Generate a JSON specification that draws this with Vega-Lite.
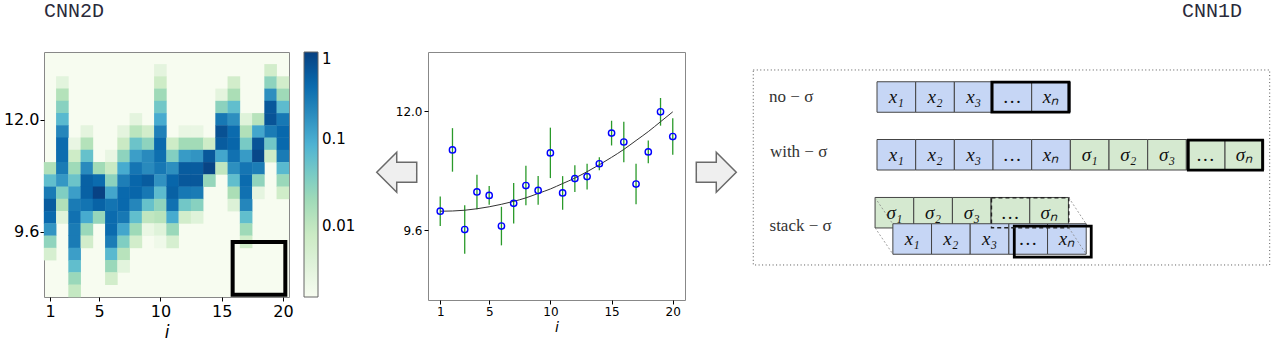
{
  "$schema": "https://vega.github.io/schema/vega-lite/v6.json",
  "padding": {"left": 2, "top": 0, "right": 0, "bottom": 0},
  "background": "white",
  "bounds": "flush",
  "spacing": 0,
  "config": {
    "font": "DejaVu Sans",
    "view": {"stroke": null},
    "title": {"font": "Liberation Mono", "fontSize": 20, "fontWeight": "normal", "color": "#2a2a3a"},
    "axis": {"grid": false, "domain": false, "tickColor": "#000", "labelColor": "#000", "titleColor": "#000", "titleFontWeight": "normal", "labelFlush": false}
  },
  "resolve": {"scale": {"color": "independent", "fill": "independent"}, "legend": {"color": "independent", "fill": "independent"}},
  "datasets": {
    "heat": [
      {"i":1,"y":10.956,"v":0.014},{"i":1,"y":10.694,"v":0.06},{"i":1,"y":10.431,"v":0.28},{"i":1,"y":10.169,"v":0.55},{"i":1,"y":9.906,"v":0.42},{"i":1,"y":9.644,"v":0.16},{"i":1,"y":9.381,"v":0.026},{"i":1,"y":9.119,"v":0.005},
      {"i":2,"y":12.794,"v":0.0032},{"i":2,"y":12.531,"v":0.013},{"i":2,"y":12.269,"v":0.03},{"i":2,"y":12.006,"v":0.07},{"i":2,"y":11.744,"v":0.22},{"i":2,"y":11.481,"v":0.4},{"i":2,"y":11.219,"v":0.38},{"i":2,"y":10.956,"v":0.28},{"i":2,"y":10.694,"v":0.15},{"i":2,"y":10.431,"v":0.035},{"i":2,"y":10.169,"v":0.014},{"i":2,"y":9.906,"v":0.0035},
      {"i":3,"y":11.481,"v":0.0025},{"i":3,"y":11.219,"v":0.007},{"i":3,"y":10.956,"v":0.02},{"i":3,"y":10.694,"v":0.05},{"i":3,"y":10.431,"v":0.13},{"i":3,"y":10.169,"v":0.28},{"i":3,"y":9.906,"v":0.35},{"i":3,"y":9.644,"v":0.28},{"i":3,"y":9.381,"v":0.28},{"i":3,"y":9.119,"v":0.13},{"i":3,"y":8.856,"v":0.06},{"i":3,"y":8.594,"v":0.022},{"i":3,"y":8.331,"v":0.009},
      {"i":4,"y":11.744,"v":0.003},{"i":4,"y":11.481,"v":0.013},{"i":4,"y":11.219,"v":0.055},{"i":4,"y":10.956,"v":0.2},{"i":4,"y":10.694,"v":0.5},{"i":4,"y":10.431,"v":0.5},{"i":4,"y":10.169,"v":0.33},{"i":4,"y":9.906,"v":0.1},{"i":4,"y":9.644,"v":0.022},{"i":4,"y":9.381,"v":0.006},
      {"i":5,"y":10.956,"v":0.019},{"i":5,"y":10.694,"v":0.4},{"i":5,"y":10.431,"v":0.95},{"i":5,"y":10.169,"v":0.48},{"i":5,"y":9.906,"v":0.024},
      {"i":6,"y":11.219,"v":0.0025},{"i":6,"y":10.956,"v":0.008},{"i":6,"y":10.694,"v":0.028},{"i":6,"y":10.431,"v":0.11},{"i":6,"y":10.169,"v":0.33},{"i":6,"y":9.906,"v":0.4},{"i":6,"y":9.644,"v":0.4},{"i":6,"y":9.381,"v":0.27},{"i":6,"y":9.119,"v":0.07},{"i":6,"y":8.856,"v":0.022},{"i":6,"y":8.594,"v":0.006},
      {"i":7,"y":11.744,"v":0.003},{"i":7,"y":11.481,"v":0.008},{"i":7,"y":11.219,"v":0.027},{"i":7,"y":10.956,"v":0.1},{"i":7,"y":10.694,"v":0.26},{"i":7,"y":10.431,"v":0.42},{"i":7,"y":10.169,"v":0.42},{"i":7,"y":9.906,"v":0.3},{"i":7,"y":9.644,"v":0.11},{"i":7,"y":9.381,"v":0.035},{"i":7,"y":9.119,"v":0.012},{"i":7,"y":8.856,"v":0.0032},
      {"i":8,"y":12.006,"v":0.003},{"i":8,"y":11.744,"v":0.011},{"i":8,"y":11.481,"v":0.05},{"i":8,"y":11.219,"v":0.13},{"i":8,"y":10.956,"v":0.32},{"i":8,"y":10.694,"v":0.45},{"i":8,"y":10.431,"v":0.45},{"i":8,"y":10.169,"v":0.22},{"i":8,"y":9.906,"v":0.06},{"i":8,"y":9.644,"v":0.02},{"i":8,"y":9.381,"v":0.006},
      {"i":9,"y":11.744,"v":0.006},{"i":9,"y":11.481,"v":0.027},{"i":9,"y":11.219,"v":0.2},{"i":9,"y":10.956,"v":0.2},{"i":9,"y":10.694,"v":0.55},{"i":9,"y":10.431,"v":0.3},{"i":9,"y":10.169,"v":0.055},{"i":9,"y":9.906,"v":0.01},{"i":9,"y":9.644,"v":0.0024},
      {"i":10,"y":13.056,"v":0.003},{"i":10,"y":12.794,"v":0.007},{"i":10,"y":12.531,"v":0.02},{"i":10,"y":12.269,"v":0.045},{"i":10,"y":12.006,"v":0.1},{"i":10,"y":11.744,"v":0.25},{"i":10,"y":11.481,"v":0.42},{"i":10,"y":11.219,"v":0.37},{"i":10,"y":10.956,"v":0.3},{"i":10,"y":10.694,"v":0.17},{"i":10,"y":10.431,"v":0.065},{"i":10,"y":10.169,"v":0.026},{"i":10,"y":9.906,"v":0.012},{"i":10,"y":9.644,"v":0.0035},{"i":10,"y":9.381,"v":0.002},
      {"i":11,"y":11.481,"v":0.007},{"i":11,"y":11.219,"v":0.033},{"i":11,"y":10.956,"v":0.18},{"i":11,"y":10.694,"v":0.45},{"i":11,"y":10.431,"v":0.5},{"i":11,"y":10.169,"v":0.35},{"i":11,"y":9.906,"v":0.1},{"i":11,"y":9.644,"v":0.022},{"i":11,"y":9.381,"v":0.005},
      {"i":12,"y":11.744,"v":0.0025},{"i":12,"y":11.481,"v":0.019},{"i":12,"y":11.219,"v":0.14},{"i":12,"y":10.956,"v":0.55},{"i":12,"y":10.694,"v":0.6},{"i":12,"y":10.431,"v":0.3},{"i":12,"y":10.169,"v":0.045},{"i":12,"y":9.906,"v":0.006},
      {"i":13,"y":11.744,"v":0.0025},{"i":13,"y":11.481,"v":0.019},{"i":13,"y":11.219,"v":0.16},{"i":13,"y":10.956,"v":0.55},{"i":13,"y":10.694,"v":0.6},{"i":13,"y":10.431,"v":0.28},{"i":13,"y":10.169,"v":0.03},{"i":13,"y":9.906,"v":0.0035},
      {"i":14,"y":11.481,"v":0.007},{"i":14,"y":11.219,"v":0.6},{"i":14,"y":10.956,"v":0.9},{"i":14,"y":10.694,"v":0.024},
      {"i":15,"y":12.531,"v":0.003},{"i":15,"y":12.269,"v":0.028},{"i":15,"y":12.006,"v":0.3},{"i":15,"y":11.744,"v":0.7},{"i":15,"y":11.481,"v":0.55},{"i":15,"y":11.219,"v":0.11},{"i":15,"y":10.956,"v":0.01},
      {"i":16,"y":12.794,"v":0.006},{"i":16,"y":12.531,"v":0.016},{"i":16,"y":12.269,"v":0.06},{"i":16,"y":12.006,"v":0.18},{"i":16,"y":11.744,"v":0.4},{"i":16,"y":11.481,"v":0.45},{"i":16,"y":11.219,"v":0.35},{"i":16,"y":10.956,"v":0.18},{"i":16,"y":10.694,"v":0.06},{"i":16,"y":10.431,"v":0.016},{"i":16,"y":10.169,"v":0.004},
      {"i":17,"y":12.006,"v":0.0035},{"i":17,"y":11.744,"v":0.014},{"i":17,"y":11.481,"v":0.04},{"i":17,"y":11.219,"v":0.14},{"i":17,"y":10.956,"v":0.32},{"i":17,"y":10.694,"v":0.4},{"i":17,"y":10.431,"v":0.35},{"i":17,"y":10.169,"v":0.22},{"i":17,"y":9.906,"v":0.06},{"i":17,"y":9.644,"v":0.02},{"i":17,"y":9.381,"v":0.0065},
      {"i":18,"y":12.006,"v":0.012},{"i":18,"y":11.744,"v":0.11},{"i":18,"y":11.481,"v":0.65},{"i":18,"y":11.219,"v":0.85},{"i":18,"y":10.956,"v":0.27},{"i":18,"y":10.694,"v":0.026},{"i":18,"y":10.431,"v":0.0028},
      {"i":19,"y":13.056,"v":0.006},{"i":19,"y":12.794,"v":0.027},{"i":19,"y":12.531,"v":0.18},{"i":19,"y":12.269,"v":0.6},{"i":19,"y":12.006,"v":0.65},{"i":19,"y":11.744,"v":0.28},{"i":19,"y":11.481,"v":0.045},{"i":19,"y":11.219,"v":0.007},
      {"i":20,"y":12.794,"v":0.006},{"i":20,"y":12.531,"v":0.02},{"i":20,"y":12.269,"v":0.065},{"i":20,"y":12.006,"v":0.3},{"i":20,"y":11.744,"v":0.43},{"i":20,"y":11.481,"v":0.42},{"i":20,"y":11.219,"v":0.28},{"i":20,"y":10.956,"v":0.07},{"i":20,"y":10.694,"v":0.022},{"i":20,"y":10.431,"v":0.0065}
    ],
    "heatbox": [{"x0":15.9,"x1":20.2,"y0":8.25,"y1":9.38}],
    "pts": [
      {"i":1,"y":9.98,"e":0.30},{"i":2,"y":11.22,"e":0.44},{"i":3,"y":9.61,"e":0.49},{"i":4,"y":10.37,"e":0.35},{"i":5,"y":10.30,"e":0.19},
      {"i":6,"y":9.68,"e":0.39},{"i":7,"y":10.14,"e":0.41},{"i":8,"y":10.50,"e":0.40},{"i":9,"y":10.40,"e":0.29},{"i":10,"y":11.16,"e":0.51},
      {"i":11,"y":10.35,"e":0.34},{"i":12,"y":10.64,"e":0.27},{"i":13,"y":10.68,"e":0.26},{"i":14,"y":10.94,"e":0.13},{"i":15,"y":11.56,"e":0.25},
      {"i":16,"y":11.38,"e":0.41},{"i":17,"y":10.53,"e":0.41},{"i":18,"y":11.18,"e":0.23},{"i":19,"y":11.99,"e":0.28},{"i":20,"y":11.49,"e":0.37}
    ],
    "fit": [
      {"i":1,"y":9.98},{"i":2,"y":9.985},{"i":3,"y":10.0},{"i":4,"y":10.03},{"i":5,"y":10.07},{"i":6,"y":10.12},{"i":7,"y":10.18},{"i":8,"y":10.25},{"i":9,"y":10.34},{"i":10,"y":10.43},
      {"i":11,"y":10.54},{"i":12,"y":10.65},{"i":13,"y":10.78},{"i":14,"y":10.92},{"i":15,"y":11.07},{"i":16,"y":11.23},{"i":17,"y":11.41},{"i":18,"y":11.59},{"i":19,"y":11.79},{"i":20,"y":11.99}
    ],
    "cells": [
      {"cx":0.5,"cy":1.452,"t":"x₁","k":"x"},{"cx":1.5,"cy":1.452,"t":"x₂","k":"x"},{"cx":2.5,"cy":1.452,"t":"x₃","k":"x"},{"cx":3.5,"cy":1.452,"t":"…","k":"x"},{"cx":4.5,"cy":1.452,"t":"xₙ","k":"x"},
      {"cx":0.5,"cy":3.315,"t":"x₁","k":"x"},{"cx":1.5,"cy":3.315,"t":"x₂","k":"x"},{"cx":2.5,"cy":3.315,"t":"x₃","k":"x"},{"cx":3.5,"cy":3.315,"t":"…","k":"x"},{"cx":4.5,"cy":3.315,"t":"xₙ","k":"x"},
      {"cx":5.5,"cy":3.315,"t":"σ₁","k":"s"},{"cx":6.5,"cy":3.315,"t":"σ₂","k":"s"},{"cx":7.5,"cy":3.315,"t":"σ₃","k":"s"},{"cx":8.5,"cy":3.315,"t":"…","k":"s"},{"cx":9.5,"cy":3.315,"t":"σₙ","k":"s"},
      {"cx":0.45,"cy":5.184,"t":"σ₁","k":"s"},{"cx":1.45,"cy":5.184,"t":"σ₂","k":"s"},{"cx":2.45,"cy":5.184,"t":"σ₃","k":"s"},{"cx":3.45,"cy":5.184,"t":"…","k":"s"},{"cx":4.45,"cy":5.184,"t":"σₙ","k":"s"},
      {"cx":0.91,"cy":6.032,"t":"x₁","k":"x"},{"cx":1.91,"cy":6.032,"t":"x₂","k":"x"},{"cx":2.91,"cy":6.032,"t":"x₃","k":"x"},{"cx":3.91,"cy":6.032,"t":"…","k":"x"},{"cx":4.91,"cy":6.032,"t":"xₙ","k":"x"}
    ],
    "thick": [
      {"x0":2.97,"x1":4.96,"y0":0.97,"y1":1.94},
      {"x0":8.05,"x1":9.97,"y0":2.84,"y1":3.81},
      {"x0":3.55,"x1":5.54,"y0":5.62,"y1":6.62}
    ],
    "dashed": [{"x0":2.96,"x1":4.96,"y0":4.70,"y1":5.67}],
    "diag": [
      {"x0":-0.05,"y0":4.70,"x1":0.41,"y1":5.55},
      {"x0":-0.05,"y0":5.67,"x1":0.41,"y1":6.52},
      {"x0":4.96,"y0":4.70,"x1":5.41,"y1":5.55},
      {"x0":4.96,"y0":5.67,"x1":5.41,"y1":6.52}
    ],
    "labels": [
      {"lx":-2.79,"ly":1.44,"t":"no − σ"},
      {"lx":-2.77,"ly":3.22,"t":"with − σ"},
      {"lx":-2.78,"ly":5.61,"t":"stack − σ"}
    ],
    "frame": [{"x0":-3.2,"x1":10.155,"y0":0.58,"y1":6.87}]
  },
  "hconcat": [
    {
      "width": 245, "height": 245,
      "view": {"stroke": "#888", "strokeWidth": 1, "fill": "#f7fcf0"},
      "title": {"text": "CNN2D", "anchor": "start", "frame": "group", "baseline": "alphabetic", "offset": 15},
      "layer": [
        {
          "data": {"name": "heat"},
          "mark": {"type": "rect", "width": 12.6, "height": 12.6},
          "encoding": {
            "x": {"field": "i", "type": "quantitative", "scale": {"domain": [0.5, 20.5], "nice": false, "zero": false},
                  "axis": {"values": [1, 5, 10, 15, 20], "title": "i", "titleFontStyle": "italic", "titleFont": "DejaVu Sans", "labelFontSize": 16, "titleFontSize": 17, "tickSize": 4, "labelPadding": 2, "titlePadding": 5}},
            "y": {"field": "y", "type": "quantitative", "scale": {"domain": [8.2, 13.45], "nice": false, "zero": false},
                  "axis": {"values": [9.6, 12.0], "format": ".1f", "title": null, "labelFontSize": 16, "tickSize": 4, "labelPadding": 1}},
            "color": {"field": "v", "type": "quantitative",
                      "scale": {"type": "log", "domain": [0.0015, 0.0034, 0.0076, 0.017, 0.038, 0.085, 0.19, 0.43, 1], "range": ["#f7fcf0", "#e0f3db", "#ccebc5", "#a8ddb5", "#7bccc4", "#4eb3d3", "#2b8cbe", "#0868ac", "#084081"], "interpolate": "rgb"},
                      "legend": {"orient": "right", "offset": 15, "padding": 0, "title": null, "direction": "vertical", "gradientLength": 245, "gradientThickness": 14, "values": [0.01, 0.1, 1], "format": "~g", "labelFontSize": 15, "labelFont": "DejaVu Sans", "labelColor": "#000", "labelBaseline": "middle", "labelOffset": 4, "gradientStrokeColor": "#666", "gradientStrokeWidth": 1}}
          }
        },
        {
          "data": {"name": "heatbox"},
          "mark": {"type": "rect", "fill": "transparent", "stroke": "#000", "strokeWidth": 4},
          "encoding": {
            "x": {"field": "x0", "type": "quantitative"}, "x2": {"field": "x1"},
            "y": {"field": "y0", "type": "quantitative"}, "y2": {"field": "y1"}
          }
        }
      ]
    },
    {
      "width": 139, "height": 248,
      "data": {"values": [{"x": 0.775, "y": 0.515}]},
      "mark": {"type": "point", "shape": "M -1 0 L 0 -1 L 0 -0.5 L 1 -0.5 L 1 0.5 L 0 0.5 L 0 1 Z", "size": 1600, "filled": true, "fill": "#efefef", "stroke": "#6a6a6a", "strokeWidth": 1.5, "opacity": 1},
      "encoding": {
        "x": {"field": "x", "type": "quantitative", "scale": {"domain": [0, 1]}, "axis": null},
        "y": {"field": "y", "type": "quantitative", "scale": {"domain": [0, 1]}, "axis": null}
      }
    },
    {
      "width": 257, "height": 248,
      "view": {"stroke": "#888", "strokeWidth": 1},
      "layer": [
        {
          "data": {"name": "pts"},
          "mark": {"type": "errorbar", "color": "#2a9a2a", "thickness": 1.3},
          "encoding": {
            "x": {"field": "i", "type": "quantitative", "scale": {"domain": [0, 21], "nice": false, "zero": false},
                  "axis": {"values": [1, 5, 10, 15, 20], "title": "i", "titleFontStyle": "italic", "labelFontSize": 12, "titleFontSize": 14, "tickSize": 4, "labelPadding": 2, "titlePadding": 3}},
            "y": {"field": "y", "type": "quantitative", "scale": {"domain": [8.185, 13.2], "nice": false, "zero": false},
                  "axis": {"values": [9.6, 12.0], "format": ".1f", "title": null, "labelFontSize": 12, "tickSize": 4, "labelPadding": 2}},
            "yError": {"field": "e"}
          }
        },
        {
          "data": {"name": "fit"},
          "mark": {"type": "line", "color": "#333", "strokeWidth": 1, "interpolate": "monotone"},
          "encoding": {"x": {"field": "i", "type": "quantitative"}, "y": {"field": "y", "type": "quantitative"}}
        },
        {
          "data": {"name": "pts"},
          "mark": {"type": "point", "filled": false, "color": "#0000ff", "size": 40, "strokeWidth": 1.4, "opacity": 1},
          "encoding": {"x": {"field": "i", "type": "quantitative"}, "y": {"field": "y", "type": "quantitative"}}
        }
      ]
    },
    {
      "width": 68, "height": 248,
      "data": {"values": [{"x": 0.46, "y": 0.515}]},
      "mark": {"type": "point", "shape": "M 1 0 L 0 -1 L 0 -0.5 L -1 -0.5 L -1 0.5 L 0 0.5 L 0 1 Z", "size": 1600, "filled": true, "fill": "#efefef", "stroke": "#6a6a6a", "strokeWidth": 1.5, "opacity": 1},
      "encoding": {
        "x": {"field": "x", "type": "quantitative", "scale": {"domain": [0, 1]}, "axis": null},
        "y": {"field": "y", "type": "quantitative", "scale": {"domain": [0, 1]}, "axis": null}
      }
    },
    {
      "width": 517, "height": 248,
      "title": {"text": "CNN1D", "anchor": "end", "frame": "group", "baseline": "alphabetic", "offset": 15, "dx": -28},
      "encoding": {
        "x": {"type": "quantitative", "scale": {"domain": [-3.207, 10.163], "nice": false, "zero": false}, "axis": null},
        "y": {"type": "quantitative", "scale": {"domain": [0, 8], "reverse": true, "nice": false, "zero": false}, "axis": null}
      },
      "layer": [
        {
          "data": {"name": "frame"},
          "mark": {"type": "rect", "fill": "transparent", "stroke": "#555", "strokeWidth": 1, "strokeDash": [1, 2.5]},
          "encoding": {"x": {"field": "x0", "type": "quantitative"}, "x2": {"field": "x1"}, "y": {"field": "y0", "type": "quantitative"}, "y2": {"field": "y1"}}
        },
        {
          "data": {"name": "cells"},
          "mark": {"type": "rect", "width": 38.67, "height": 30.5, "stroke": "#444", "strokeWidth": 1},
          "encoding": {
            "x": {"field": "cx", "type": "quantitative"},
            "y": {"field": "cy", "type": "quantitative"},
            "fill": {"field": "k", "type": "nominal", "scale": {"domain": ["x", "s"], "range": ["#c6d6f5", "#d5e9d0"]}, "legend": null}
          }
        },
        {
          "data": {"name": "thick"},
          "mark": {"type": "rect", "fill": "transparent", "stroke": "#000", "strokeWidth": 2.8},
          "encoding": {"x": {"field": "x0", "type": "quantitative"}, "x2": {"field": "x1"}, "y": {"field": "y0", "type": "quantitative"}, "y2": {"field": "y1"}}
        },
        {
          "data": {"name": "dashed"},
          "mark": {"type": "rect", "fill": "transparent", "stroke": "#222", "strokeWidth": 1.4, "strokeDash": [4, 3]},
          "encoding": {"x": {"field": "x0", "type": "quantitative"}, "x2": {"field": "x1"}, "y": {"field": "y0", "type": "quantitative"}, "y2": {"field": "y1"}}
        },
        {
          "data": {"name": "diag"},
          "mark": {"type": "rule", "stroke": "#888", "strokeWidth": 0.8, "strokeDash": [2, 2]},
          "encoding": {"x": {"field": "x0", "type": "quantitative"}, "x2": {"field": "x1"}, "y": {"field": "y0", "type": "quantitative"}, "y2": {"field": "y1"}}
        },
        {
          "data": {"name": "cells"},
          "mark": {"type": "text", "font": "Liberation Serif", "fontStyle": "italic", "fontSize": 19, "color": "#111", "align": "center", "baseline": "middle"},
          "encoding": {"x": {"field": "cx", "type": "quantitative"}, "y": {"field": "cy", "type": "quantitative"}, "text": {"field": "t"}}
        },
        {
          "data": {"name": "labels"},
          "mark": {"type": "text", "font": "Liberation Serif", "fontSize": 17, "color": "#333", "align": "left", "baseline": "middle"},
          "encoding": {"x": {"field": "lx", "type": "quantitative"}, "y": {"field": "ly", "type": "quantitative"}, "text": {"field": "t"}}
        }
      ]
    }
  ]
}
